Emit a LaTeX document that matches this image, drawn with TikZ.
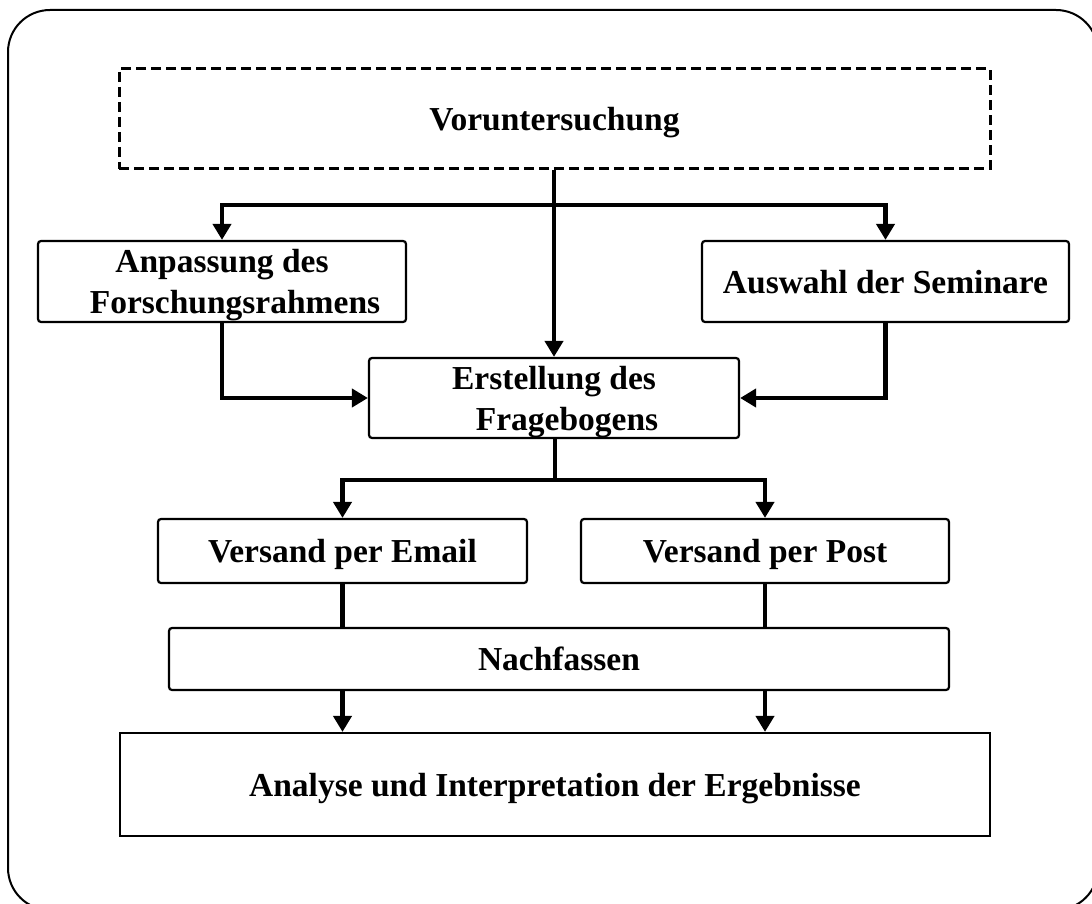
\documentclass[tikz,border=0pt]{standalone}
\usepackage{fontspec}
\setmainfont{Liberation Serif}
\usetikzlibrary{arrows.meta}
\begin{document}
\begin{tikzpicture}[x=1pt,y=-1pt,
  font=\fontsize{33.5}{41}\selectfont\bfseries,
  box/.style={draw, line width=2.2pt, rounded corners=3pt, inner sep=0pt,
    align=center, text depth=0pt, minimum width=#1},
  conn/.style={line width=4.2pt},
  arr/.style={conn, -{Triangle[length=16pt,width=18pt]}}]
\useasboundingbox (0,0) rectangle (1092,904);
% outer frame
\begin{scope}
  \clip (0,0) rectangle (1092,904);
  \draw[line width=2pt, rounded corners=42pt] (8,10) rectangle (1098,910);
\end{scope}
% nodes
\node[box=871pt, minimum height=100pt, rounded corners=0pt, line width=3pt,
  dash pattern=on 10pt off 5pt] (vor) at (554.5,119) {Voruntersuchung};
\node[box=368pt, minimum height=81pt] (anp) at (222,281.5) {Anpassung des\\\hspace*{26pt}Forschungsrahmens};
\node[box=367pt, minimum height=81pt] (ausw) at (885.5,281.5) {Auswahl der Seminare};
\node[box=370pt, minimum height=80pt] (erst) at (554,398) {Erstellung des\\\hspace*{26pt}Fragebogens};
\node[box=369pt, minimum height=64pt] (email) at (342.5,551) {Versand per Email};
\node[box=368pt, minimum height=64pt] (post) at (765,551) {Versand per Post};
\node[box=780pt, minimum height=62pt] (nach) at (559,659) {Nachfassen};
\node[box=870pt, minimum height=103pt, rounded corners=0pt] (ana) at (555,784.5) {Analyse und Interpretation der Ergebnisse};
% connectors
\coordinate (b1) at (554,205);
\coordinate (b2) at (555,480);
\draw[arr] (vor.south -| 554,0) -- (erst.north -| 554,0);
\draw[arr] (b1) -| (anp.north);
\draw[arr] (b1) -| (ausw.north);
\draw[arr] (anp.south) |- (erst.west);
\draw[arr] (ausw.south) |- (erst.east);
\draw[conn] (erst.south -| b2) -- (b2);
\draw[arr] (b2) -| (email.north);
\draw[arr] (b2) -| (post.north);
\draw[conn] (email.south) -- (email.south |- nach.north);
\draw[conn] (post.south) -- (post.south |- nach.north);
\draw[arr] (email.south |- nach.south) -- (email.south |- ana.north);
\draw[arr] (post.south |- nach.south) -- (post.south |- ana.north);
\end{tikzpicture}
\end{document}
